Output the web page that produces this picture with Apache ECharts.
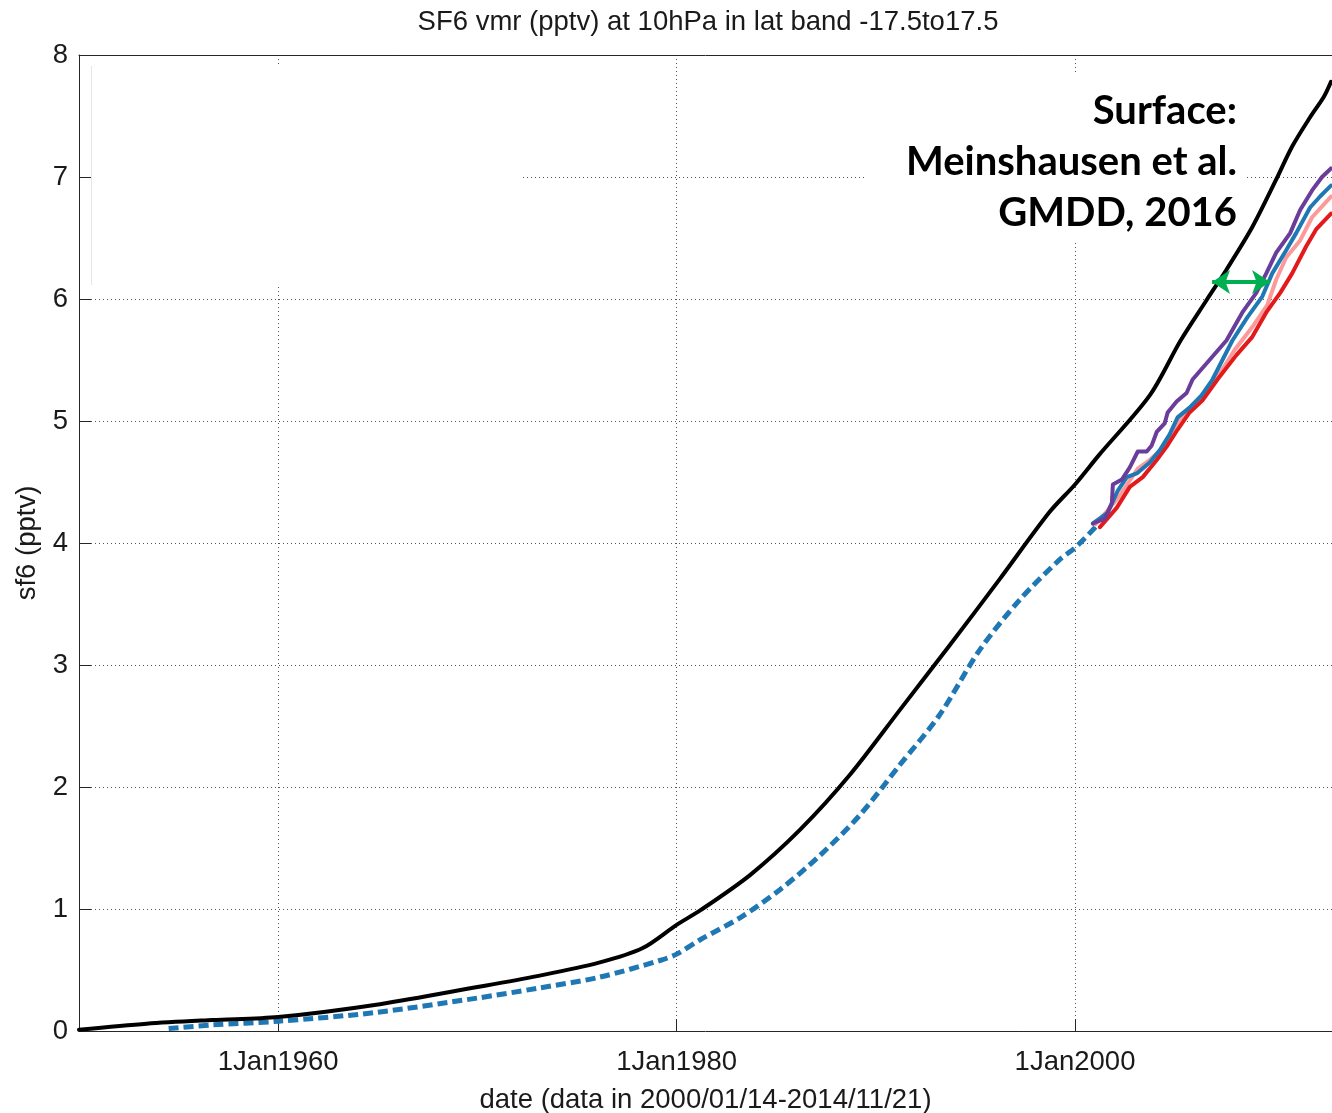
<!DOCTYPE html>
<html>
<head>
<meta charset="utf-8">
<title>SF6 vmr at 10hPa</title>
<script src="https://cdn.jsdelivr.net/npm/echarts@6/dist/echarts.min.js"></script>
<style>
  html, body { margin: 0; padding: 0; background: #fff; }
  #chart { width: 1332px; height: 1113px; }
</style>
</head>
<body>
<div id="chart"></div>
<script>
// Surface SF6 (Meinshausen et al.), decimal year / pptv
const surfaceYears = [1950.0, 1953.4, 1956.7, 1960.0, 1965.1, 1970.0, 1973.0, 1976.1, 1978.3, 1980.0, 1981.2, 1983.7, 1986.2, 1988.7, 1991.2, 1993.7, 1996.2, 1998.7, 2000.0, 2001.2, 2003.75, 2005.3, 2006.6, 2007.6, 2008.9, 2010.1, 2010.9, 2011.8, 2012.5, 2012.85];
const surfaceVals  = [0.01, 0.06, 0.09, 0.115, 0.22, 0.36, 0.45, 0.56, 0.68, 0.87, 0.99, 1.28, 1.65, 2.10, 2.63, 3.16, 3.70, 4.25, 4.48, 4.72, 5.21, 5.66, 5.99, 6.24, 6.59, 6.98, 7.25, 7.49, 7.66, 7.78];

// Lagged 10hPa estimate before the observation period (dashed)
const histYears = [1954.5, 1956.7, 1960.0, 1964.8, 1970.0, 1973.0, 1976.1, 1979.2, 1980.0, 1981.2, 1983.2, 1985.2, 1987.2, 1989.2, 1991.2, 1993.2, 1995.2, 1997.2, 1999.2, 2000.0, 2001.2];
const histVals  = [0.02, 0.05, 0.08, 0.15, 0.27, 0.35, 0.44, 0.58, 0.63, 0.75, 0.93, 1.16, 1.44, 1.77, 2.18, 2.59, 3.12, 3.53, 3.86, 3.96, 4.16];

// 10hPa series over 2000-2014
const purpleYears = [2000.9, 2001.5, 2001.85, 2001.9, 2002.35, 2002.75, 2003.15, 2003.6, 2003.85, 2004.1, 2004.5, 2004.65, 2005.1, 2005.6, 2005.9, 2006.75, 2007.6, 2008.4, 2009.1, 2009.6, 2010.1, 2010.8, 2011.3, 2011.9, 2012.4, 2012.85];
const purpleVals  = [4.16, 4.20, 4.33, 4.48, 4.52, 4.62, 4.75, 4.75, 4.80, 4.91, 4.98, 5.07, 5.16, 5.23, 5.34, 5.50, 5.66, 5.89, 6.05, 6.21, 6.38, 6.54, 6.73, 6.89, 7.00, 7.07];

const blueYears = [2000.9, 2001.65, 2002.15, 2002.6, 2003.1, 2003.75, 2004.25, 2004.75, 2005.15, 2005.75, 2006.35, 2006.9, 2007.9, 2008.65, 2009.4, 2009.9, 2010.6, 2011.1, 2011.8, 2012.3, 2012.85];
const blueVals  = [4.16, 4.25, 4.43, 4.54, 4.57, 4.66, 4.76, 4.89, 5.03, 5.11, 5.21, 5.34, 5.66, 5.85, 6.02, 6.21, 6.40, 6.54, 6.75, 6.84, 6.93];

const pinkYears = [2001.0, 2001.55, 2002.25, 2003.15, 2003.75, 2004.35, 2004.85, 2005.25, 2005.85, 2006.5, 2007.0, 2008.0, 2008.9, 2009.65, 2010.1, 2010.6, 2011.3, 2011.9, 2012.85];
const pinkVals  = [4.15, 4.25, 4.39, 4.61, 4.68, 4.77, 4.91, 5.01, 5.10, 5.20, 5.32, 5.58, 5.77, 5.95, 6.16, 6.34, 6.48, 6.67, 6.84];

const redYears = [2001.25, 2002.1, 2002.75, 2003.4, 2004.1, 2004.6, 2005.15, 2005.75, 2006.4, 2007.15, 2008.1, 2008.9, 2009.6, 2010.3, 2010.9, 2011.6, 2012.1, 2012.85];
const redVals  = [4.13, 4.29, 4.46, 4.54, 4.68, 4.79, 4.93, 5.07, 5.17, 5.34, 5.54, 5.69, 5.89, 6.05, 6.21, 6.43, 6.57, 6.70];

// Axis ticks
const xTickYears = [1960, 1980, 2000];
const yTicks = [0, 1, 2, 3, 4, 5, 6, 7, 8];

// Lag arrow between surface and 10hPa curves
const lagArrow = { fromYear: 2006.88, toYear: 2009.79, level: 6.14 };

const zip = (xs, ys) => xs.map((x, i) => [x, ys[i]]);

const AXIS_COLOR = '#262626';
const TEXT_COLOR = '#1a1a1a';
const LABEL_FONT = 'Liberation Sans, Arial, Helvetica, sans-serif';
const LABEL_SIZE = 27.5;

const chart = echarts.init(document.getElementById('chart'), null, { renderer: 'canvas' });

const lineSeries = (name, xs, ys, color, extra) => Object.assign({
  name: name,
  type: 'line',
  data: zip(xs, ys),
  showSymbol: false,
  symbol: 'none',
  smooth: false,
  silent: true,
  clip: false,
  lineStyle: { color: color, width: 4, cap: 'round', join: 'round' },
  z: 3
}, extra || {});

chart.setOption({
  animation: false,
  backgroundColor: '#ffffff',
  title: {
    text: 'SF6 vmr (pptv) at 10hPa in lat band -17.5to17.5',
    left: 703,
    top: 3,
    textAlign: 'center',
    textStyle: { fontFamily: LABEL_FONT, fontSize: LABEL_SIZE, fontWeight: 'normal', color: TEXT_COLOR }
  },
  grid: { left: 79, right: 0, top: 55, bottom: 82, containLabel: false, outerBoundsMode: 'none' },
  xAxis: [{
    type: 'value',
    min: 1950,
    max: 2012.9,
    position: 'bottom',
    name: 'date (data in 2000/01/14-2014/11/21)',
    nameLocation: 'middle',
    nameGap: 55,
    nameTextStyle: { fontFamily: LABEL_FONT, fontSize: LABEL_SIZE, color: TEXT_COLOR },
    axisLine: { show: true, onZero: false, lineStyle: { color: AXIS_COLOR, width: 1 } },
    axisTick: { show: true, inside: true, length: 12, customValues: xTickYears, lineStyle: { color: AXIS_COLOR } },
    axisLabel: {
      customValues: xTickYears,
      margin: 17,
      fontFamily: LABEL_FONT, fontSize: LABEL_SIZE, color: TEXT_COLOR,
      formatter: v => '1Jan' + v
    },
    splitLine: { show: true, lineStyle: { color: '#555', width: 1, type: [1, 3] } }
  }, {
    type: 'value',
    min: 1950,
    max: 2012.9,
    position: 'top',
    axisLine: { show: true, onZero: false, lineStyle: { color: AXIS_COLOR, width: 1 } },
    axisTick: { show: false },
    axisLabel: { show: false },
    splitLine: { show: false }
  }],
  yAxis: {
    type: 'value',
    min: yTicks[0],
    max: yTicks[yTicks.length - 1],
    interval: 1,
    name: 'sf6 (pptv)',
    nameLocation: 'middle',
    nameGap: 36,
    nameRotate: 90,
    nameTextStyle: { fontFamily: LABEL_FONT, fontSize: LABEL_SIZE, color: TEXT_COLOR },
    axisLine: { show: true, lineStyle: { color: AXIS_COLOR, width: 1 } },
    axisTick: { show: true, inside: true, length: 12, lineStyle: { color: AXIS_COLOR } },
    axisLabel: { margin: 11, fontFamily: LABEL_FONT, fontSize: LABEL_SIZE, color: TEXT_COLOR },
    splitLine: { show: true, lineStyle: { color: '#555', width: 1, type: [1, 3] } }
  },
  graphic: [
    // blank legend panel in the upper left
    { type: 'rect', z: 1, silent: true, shape: { x: 91, y: 66, width: 430, height: 219 }, style: { fill: '#ffffff' } },
    { type: 'line', z: 1, silent: true, shape: { x1: 91.5, y1: 66, x2: 91.5, y2: 285 }, style: { stroke: '#e6e6e6', lineWidth: 1 } },
    // panel behind the source note
    { type: 'rect', z: 1, silent: true, shape: { x: 865, y: 72, width: 381, height: 168 }, style: { fill: '#ffffff' } },
    {
      type: 'text', z: 5, silent: true,
      x: 1237, y: 86,
      style: {
        text: 'Surface:\nMeinshausen et al.\nGMDD, 2016',
        align: 'right', verticalAlign: 'top',
        font: 'bold 40px Lato, "Open Sans", sans-serif',
        lineHeight: 51,
        fill: '#000000'
      }
    }
  ],
  series: [
    lineSeries('surface', surfaceYears, surfaceVals, '#000000', {
      z: 4,
      smooth: 0.3,
      markLine: {
        silent: true,
        symbol: ['arrow', 'arrow'],
        symbolSize: [18, 18],
        label: { show: false },
        emphasis: { disabled: true },
        lineStyle: { color: '#00b050', width: 4, type: 'solid' },
        data: [[{ coord: [lagArrow.fromYear, lagArrow.level] }, { coord: [lagArrow.toYear, lagArrow.level] }]]
      }
    }),
    lineSeries('lagged', histYears, histVals, '#1f78b4', {
      smooth: 0.3,
      lineStyle: { color: '#1f78b4', width: 5, type: [10, 5], cap: 'butt' }
    }),
    lineSeries('pink', pinkYears, pinkVals, '#fb9a99'),
    lineSeries('red', redYears, redVals, '#e31a1c'),
    lineSeries('blue', blueYears, blueVals, '#1f78b4'),
    lineSeries('purple', purpleYears, purpleVals, '#6a3d9a')
  ]
});
</script>
</body>
</html>
